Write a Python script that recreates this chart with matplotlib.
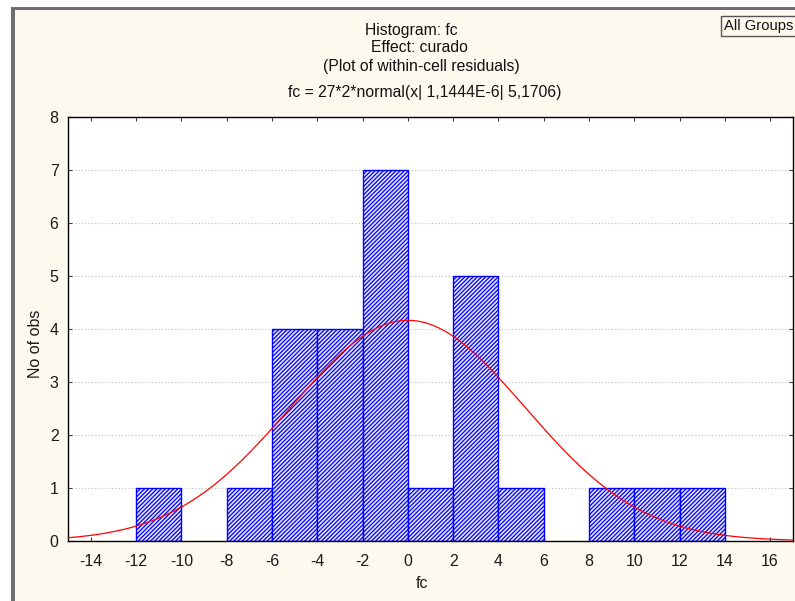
import numpy as np
import matplotlib
matplotlib.use("Agg")
import matplotlib.pyplot as plt
from matplotlib.patches import Rectangle

# Histogram of within-cell residuals (bin width 2)
bin_left = np.array([-12, -10, -8, -6, -4, -2, 0, 2, 4, 6, 8, 10, 12])
counts = np.array([1, 0, 1, 4, 4, 7, 1, 5, 1, 0, 1, 1, 1])
bin_width = 2

# fitted normal from the chart header: 27*2*normal(x| 1,1444E-6| 5,1706)
n_obs = 27
fit_mean = 1.1444e-6
fit_sd = 5.1706

x_ticks = [-14, -12, -10, -8, -6, -4, -2, 0, 2, 4, 6, 8, 10, 12, 14, 16]
y_ticks = [0, 1, 2, 3, 4, 5, 6, 7, 8]

title_lines = [
    "Histogram: fc",
    "Effect: curado",
    "(Plot of within-cell residuals)",
    "fc = 27*2*normal(x| 1,1444E-6| 5,1706)",
]

plt.rcParams["font.family"] = ["Liberation Sans", "DejaVu Sans"]
plt.rcParams["axes.unicode_minus"] = False
plt.rcParams["hatch.color"] = "#0000FF"
plt.rcParams["hatch.linewidth"] = 0.9

W, H = 795, 601
bg = "#FEF9EE"
fig = plt.figure(figsize=(W / 100, H / 100), dpi=100, facecolor=bg)

# window frame: white outside, gray border on top and left
fig.add_artist(Rectangle((0, 0), 11 / W, 1, transform=fig.transFigure, color="white", lw=0))
fig.add_artist(Rectangle((0, 1 - 7 / H), 1, 7 / H, transform=fig.transFigure, color="white", lw=0))
fig.add_artist(Rectangle((11 / W, 0), 4 / W, 1 - 7 / H, transform=fig.transFigure, color="#6e6e6e", lw=0))
fig.add_artist(Rectangle((11 / W, 1 - 9.5 / H), 1, 2.5 / H, transform=fig.transFigure, color="#6e6e6e", lw=0))

ax = fig.add_axes([68.3 / W, (H - 541) / H, (792.7 - 68.3) / W, (541 - 117.3) / H])
ax.set_facecolor("white")

nz = counts > 0
ax.bar(bin_left[nz], counts[nz], width=bin_width, align="edge",
       facecolor="#E4E4FA", edgecolor="#0000FF", hatch="////////", linewidth=1.0, zorder=2)

xs = np.linspace(-15, 17, 500)
pdf = np.exp(-0.5 * ((xs - fit_mean) / fit_sd) ** 2) / (fit_sd * np.sqrt(2 * np.pi))
ax.plot(xs, n_obs * bin_width * pdf, color="#FF0000", linewidth=0.9, zorder=3, clip_on=False)

ax.set_xlim(-15, 17)
ax.set_ylim(0, 8)
ax.set_xticks(x_ticks)
ax.set_yticks(y_ticks)
ax.yaxis.grid(True, linestyle=(0, (1, 2)), color="#bdbdbd", linewidth=0.8)
ax.set_axisbelow(True)
ax.tick_params(axis="both", direction="in", length=3, width=0.8, color="#404040",
               labelsize=11.5, labelcolor="#1a1a1a", top=True, right=True)
ax.tick_params(axis="x", pad=9)
ax.tick_params(axis="y", pad=7)
for s in ax.spines.values():
    s.set_linewidth(1.0)
    s.set_color("black")

# titles
title_pos = [(411, 30), (419, 48), (421, 67), (425, 93)]
for txt, (px, py) in zip(title_lines, title_pos):
    fig.text(px / W, 1 - py / H, txt, ha="center", va="center", fontsize=11.3, color="#111111")

fig.text(422 / W, 1 - 583 / H, "fc", ha="center", va="center", fontsize=11.5, color="#1a1a1a")
fig.text(36 / W, 1 - 344 / H, "No of obs", ha="center", va="center", rotation=90,
         fontsize=11.5, color="#1a1a1a")

# "All Groups" box at top right
fig.add_artist(Rectangle((720.5 / W, 1 - 36 / H), 80 / W, 20 / H, transform=fig.transFigure,
                         facecolor=bg, edgecolor="#555555", lw=1.0))
fig.text(724 / W, 1 - 26 / H, "All Groups", ha="left", va="center", fontsize=10.6, color="#111111")

fig.savefig("out.png", dpi=100, facecolor=bg)
